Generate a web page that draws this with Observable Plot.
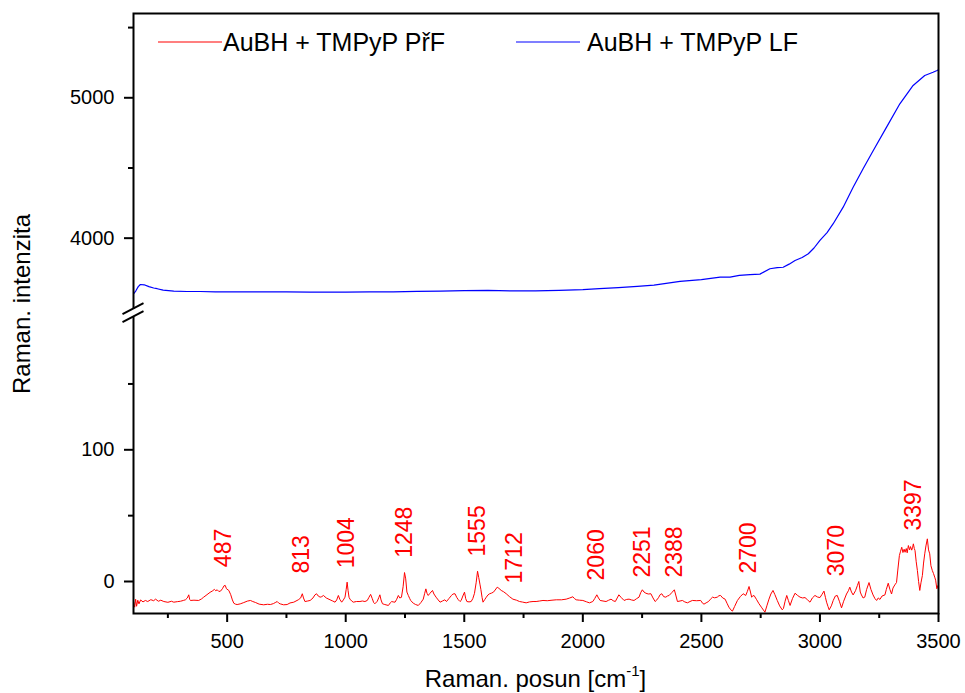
<!DOCTYPE html>
<html><head><meta charset="utf-8">
<script src="https://cdn.jsdelivr.net/npm/d3@7"></script>
<script src="https://cdn.jsdelivr.net/npm/@observablehq/plot@0.6"></script>
<style>html,body{margin:0;padding:0;background:#fff;overflow:hidden}</style>
</head><body><div id="chart"></div>
<script>
// ---------- data ----------
const seriesNames = ["AuBH + TMPyP PřF", "AuBH + TMPyP LF"];
const seriesColors = ["#ff0000", "#0000ff"];

const redX = [106,110,114,118,123,128,135,145,155,165,178,190,198,210,220,233,250,265,275,290,303,315,324,332,338,342,345,360,380,392,401,415,428,437,446,452,458,465,472,480,487,492,497,507,515,522,528,535,542,555,570,585,598,608,619,635,654,670,682,695,705,711,718,724,738,753,765,781,800,810,817,822,828,840,850,862,870,877,884,892,899,906,918,934,945,955,962,969,975,983,990,997,1002,1006,1010,1014,1018,1025,1032,1045,1060,1070,1081,1091,1098,1105,1112,1118,1123,1133,1140,1144,1149,1155,1165,1180,1188,1194,1200,1208,1215,1222,1228,1235,1242,1248,1253,1258,1264,1270,1274,1285,1295,1306,1317,1327,1333,1338,1343,1348,1355,1366,1372,1381,1390,1398,1408,1418,1425,1435,1446,1452,1461,1468,1475,1482,1487,1494,1501,1506,1511,1520,1529,1536,1543,1550,1556,1561,1566,1570,1575,1579,1586,1593,1600,1607,1615,1623,1630,1639,1646,1656,1666,1677,1690,1705,1720,1733,1745,1761,1775,1790,1803,1818,1832,1850,1870,1888,1910,1930,1945,1958,1965,1972,1986,2000,2015,2028,2042,2050,2059,2066,2073,2085,2098,2108,2119,2128,2137,2145,2152,2161,2174,2185,2195,2205,2216,2227,2237,2244,2251,2258,2266,2276,2287,2296,2305,2312,2319,2326,2333,2341,2350,2357,2364,2375,2386,2393,2399,2410,2420,2430,2441,2452,2462,2480,2497,2505,2511,2520,2530,2538,2547,2556,2567,2574,2581,2590,2600,2608,2616,2624,2631,2640,2652,2664,2676,2687,2694,2701,2707,2712,2717,2722,2732,2743,2755,2768,2777,2785,2793,2802,2810,2820,2830,2841,2846,2853,2860,2867,2874,2884,2895,2905,2916,2927,2937,2948,2958,2968,2979,2990,3000,3008,3017,3023,3028,3034,3039,3048,3056,3065,3073,3082,3091,3100,3112,3120,3126,3133,3140,3150,3158,3164,3170,3175,3182,3189,3197,3207,3215,3224,3232,3239,3246,3253,3262,3274,3280,3288,3295,3302,3308,3313,3318,3323,3328,3335,3340,3345,3350,3355,3359,3364,3368,3373,3378,3382,3387,3391,3394,3398,3401,3406,3411,3416,3421,3426,3432,3437,3442,3447,3453,3458,3463,3468,3474,3479,3484,3488,3493,3498];
const redY = [-15.7,-19.5,-13.5,-18.8,-14.2,-17,-14,-15.5,-14.4,-15.2,-13.8,-14.6,-13.4,-15,-14.2,-15.2,-15.8,-15,-15.7,-15.3,-15,-14.4,-13.9,-12.5,-10.1,-13.6,-14.4,-14.2,-14.4,-13.2,-11.9,-10,-8.2,-7.3,-6,-7,-6.3,-7.6,-7.3,-5.5,-3.2,-3,-5.5,-6.8,-10,-14,-16.5,-17.2,-17.5,-17,-16,-14.9,-14.4,-15.2,-15.9,-17.2,-17.7,-17.3,-17.5,-16.8,-15.8,-15.2,-16.5,-17,-17.7,-17.5,-16.3,-15.7,-13.9,-12.5,-9.3,-12.5,-15.2,-14.8,-14.4,-12.5,-10.2,-9.3,-11,-11.9,-11.5,-10.6,-12.5,-13.9,-14.8,-15.7,-14,-10.6,-13.5,-15.7,-14,-11.9,-6,-0.5,-7,-12,-13.4,-14.8,-15.7,-15.2,-15.2,-14.8,-15.2,-14.4,-12,-9.8,-13,-16,-16.9,-15,-12,-10.1,-14,-16.9,-17.5,-18.2,-16.2,-15.2,-15.5,-15.7,-13.5,-10.6,-12.5,-12,-4,6.8,2,-8,-10.6,-13,-14.4,-16.5,-17.5,-18.2,-16,-13.4,-9,-5.6,-9,-10.6,-9,-6.8,-9.5,-11.9,-14,-15.7,-14.8,-13.9,-15.2,-13,-10.6,-9.5,-9.3,-12,-13.9,-15.2,-14.4,-11,-8.1,-13,-15.2,-15.5,-15.2,-13,-9,-1,7.8,3,-2,-6,-12,-15.7,-13.8,-11.9,-10.2,-9.3,-8.8,-8.1,-6.5,-4.3,-5.2,-6.8,-7.8,-9.3,-11.4,-13.4,-14.2,-15.2,-15.6,-16.2,-15.5,-15.2,-15.2,-14.8,-14.4,-14.6,-14.2,-13.9,-13.9,-13.4,-12.5,-11.6,-13,-13.9,-14.2,-14.4,-15.4,-16.2,-15.2,-13,-10.1,-12.5,-14.4,-14.8,-15.2,-14.3,-13.4,-14.6,-15.2,-12.5,-10.1,-12,-14.4,-13.6,-13.4,-14,-14.4,-13,-11.9,-8.5,-6.3,-8,-8.9,-9.5,-9.3,-12.5,-15.2,-14,-12.3,-10,-9.3,-11.5,-11.9,-11,-10.6,-8.5,-6.3,-11,-15.2,-14.8,-14.4,-15.5,-16.2,-15.2,-14.4,-14.6,-14.4,-16.5,-17.2,-16.2,-15.2,-13.5,-11.9,-12.4,-11.9,-10.8,-10.6,-12.5,-13.4,-16.5,-19.5,-21.5,-22.5,-19,-14.4,-11.5,-9.3,-10.6,-7.5,-3.8,-8,-11.9,-11,-10.6,-13.5,-16.9,-20,-23.3,-18,-13.4,-9.5,-6.8,-10,-14.4,-18.5,-21.5,-20.5,-15,-10.6,-14.5,-18.2,-13,-8.9,-10.5,-11.9,-12.5,-12.2,-14,-15.7,-12.5,-10.6,-11.8,-12.2,-10,-7.3,-12,-15.7,-19,-21.5,-18.5,-14.4,-11,-10.6,-15,-20,-15,-9.5,-7,-4.3,-8,-10.2,-7,-3,0,-8,-10.2,-12.5,-11.9,-6,-0.8,-6,-10.2,-13,-14.4,-12.5,-13.6,-11,-10.2,-6,-1.3,-6,-9.5,-5,-3.4,-2,-0.8,8,19.7,23,26,22,24.5,22.2,25,21.8,27.3,24,26.5,23.8,26,28.6,25,23.5,15,8.3,0,-6.8,-1,4.6,14,21,27,32.4,24,21,12,8.3,6,3.3,1,-5.5,-3];

const blueX = [106,115,125,134,150,170,190,205,230,275,330,387,450,550,650,750,850,935,1000,1100,1200,1300,1400,1500,1600,1700,1800,1900,2000,2070,2150,2230,2300,2410,2500,2579,2621,2660,2705,2747,2789,2820,2845,2870,2895,2925,2951,2975,3000,3030,3056,3098,3140,3182,3225,3281,3337,3393,3442,3477,3494,3500];
const blueY = [3604,3625,3655,3670,3668,3655,3645,3640,3630,3623,3620,3620,3618,3617,3617,3617,3616,3615,3616,3617,3618,3621,3623,3627,3628,3624,3625,3628,3633,3640,3648,3656,3665,3692,3705,3722,3722,3735,3741,3744,3782,3790,3793,3815,3841,3862,3889,3930,3984,4040,4103,4221,4363,4494,4625,4791,4957,5088,5159,5182,5194,5200];

const peakPositions = [487,813,1004,1248,1555,1712,2060,2251,2388,2700,3070,3397];
const peakLabelY    = [10.9,6,10,18,19,-1.5,0.8,3,3,6,4,38.7];

const xTicks = [500,1000,1500,2000,2500,3000,3500];
const xMinorTicks = [250,750,1250,1750,2250,2750,3250];
const yMajorTicks = [0,100,4000,5000];
const yMinorTicks = [50,150,4500,5500];

const xTitle = "Raman. posun [cm";
const xTitleSup = "-1";
const yTitle = "Raman. intenzita";

// ---------- broken y axis mapping ----------
const LOW_MAX = 200, HIGH_MIN = 3500, HIGH_ORIGIN = 207.4, HIGH_SCALE = 0.1066;
const yv = v => v <= LOW_MAX ? v : HIGH_ORIGIN + (v - HIGH_MIN) * HIGH_SCALE;
const yinv = v => v <= LOW_MAX ? v : HIGH_MIN + (v - HIGH_ORIGIN) / HIGH_SCALE;

const red = redX.map((x, i) => ({x, y: redY[i]}));
const blue = blueX.map((x, i) => ({x, y: blueY[i]}));
const peaks = peakPositions.map((x, i) => ({x, y: peakLabelY[i]}));

const FONT = "'Liberation Sans', Arial, sans-serif";
const svgNS = "http://www.w3.org/2000/svg";
function el(tag, attrs, text) {
  const e = document.createElementNS(svgNS, tag);
  for (const k in attrs) e.setAttribute(k, attrs[k]);
  if (text != null) e.textContent = text;
  return e;
}

// break symbol on the left axis
function breakMark(index, scales, values, dim) {
  const g = el("g", {});
  const x0 = dim.marginLeft;
  const cy = scales.y((LOW_MAX + HIGH_ORIGIN) / 2);
  g.appendChild(el("rect", {x: x0 - 3, y: cy - 4, width: 6, height: 8, fill: "#fff"}));
  for (const o of [-4, 4]) {
    g.appendChild(el("line", {x1: x0 - 10.5, y1: cy + o + 5.5, x2: x0 + 10.5, y2: cy + o - 5.5, stroke: "#000", "stroke-width": 2}));
  }
  return g;
}

// legend + axis titles
function legendMark(index, scales, values, dim) {
  const g = el("g", {"font-family": FONT, "text-anchor": "start"});
  const top = dim.marginTop, left = dim.marginLeft;
  const items = [{x: left + 25, tx: left + 90}, {x: left + 383, tx: left + 454}];
  items.forEach((it, i) => {
    g.appendChild(el("line", {x1: it.x, x2: it.x + 64, y1: top + 29, y2: top + 29, stroke: seriesColors[i], "stroke-width": 1.2}));
    g.appendChild(el("text", {x: it.tx, y: top + 38, "font-size": 25, fill: "#000", "text-anchor": "start"}, seriesNames[i]));
  });
  const cx = (dim.marginLeft + dim.width - dim.marginRight) / 2;
  const t = el("text", {x: cx, y: dim.height - 6, "font-size": 24, "text-anchor": "middle", fill: "#000"});
  t.appendChild(document.createTextNode(xTitle));
  t.appendChild(el("tspan", {"font-size": 15, dy: -11}, xTitleSup));
  t.appendChild(el("tspan", {dy: 11}, "]"));
  g.appendChild(t);
  const cy = (dim.marginTop + dim.height - dim.marginBottom) / 2 - 9;
  g.appendChild(el("text", {transform: `translate(22,${cy}) rotate(-90)`, dy: "0.35em", "font-size": 24, "text-anchor": "middle", fill: "#000"}, yTitle));
  return g;
}

const chart = Plot.plot({
  width: 965, height: 693,
  marginLeft: 133, marginRight: 27, marginTop: 13, marginBottom: 80,
  style: {fontFamily: FONT, fontSize: "20px", color: "#000", background: "#fff"},
  x: {domain: [105, 3500], axis: null},
  y: {domain: [-24.3, 431.3], axis: null},
  marks: [
    Plot.line(blue, {x: "x", y: d => yv(d.y), stroke: seriesColors[1], strokeWidth: 1.2}),
    Plot.line(red, {x: "x", y: d => yv(d.y), stroke: seriesColors[0], strokeWidth: 1}),
    Plot.text(peaks, {x: "x", y: d => yv(d.y), text: d => String(d.x), rotate: -90, textAnchor: "start", lineAnchor: "middle", fill: seriesColors[0], fontSize: 23}),
    Plot.axisX(xTicks, {tickSize: 9, tickPadding: 11, strokeWidth: 2, fontSize: 20, label: null, tickFormat: d => String(d)}),
    Plot.axisX(xMinorTicks, {tickSize: 5, strokeWidth: 2, tickFormat: () => "", label: null}),
    Plot.axisY(yMajorTicks.map(yv), {tickSize: 9, tickPadding: 10, strokeWidth: 2, fontSize: 20, label: null, tickFormat: d => String(Math.round(yinv(d)))}),
    Plot.axisY(yMinorTicks.map(yv), {tickSize: 5, strokeWidth: 2, tickFormat: () => "", label: null}),
    Plot.frame({stroke: "#000", strokeWidth: 2}),
    breakMark,
    legendMark
  ]
});
document.getElementById("chart").appendChild(chart);
</script>
</body></html>
